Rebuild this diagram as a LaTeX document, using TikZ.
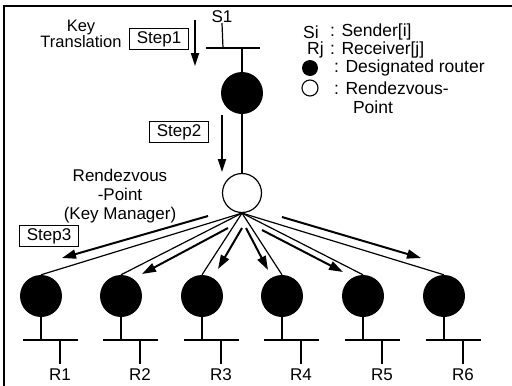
\documentclass[tikz,border=0pt]{standalone}
\usepackage{fontspec}
\setmainfont{Liberation Sans}
\usetikzlibrary{arrows.meta}
\begin{document}
\begin{tikzpicture}[x=1pt,y=-1pt,
  router/.style={circle,fill=black,minimum size=42pt,inner sep=0pt},
  rpnode/.style={circle,draw,line width=1.2pt,minimum size=39pt,inner sep=0pt},
  wire/.style={line width=1.2pt},
  frameline/.style={line width=1.6pt},
  stepbox/.style={draw,line width=1.2pt,minimum width=59pt,minimum height=21pt,inner sep=1pt,font=\fontsize{17}{18}\selectfont},
  lbl/.style={font=\fontsize{17}{18}\selectfont,inner sep=0pt},
  leg/.style={font=\fontsize{17.5}{18}\selectfont,inner sep=0pt,anchor=west},
  steparrow/.style={line width=1.8pt,-{Triangle[length=13pt,width=8pt]}},
  bigarrow/.style={line width=2pt,-{Triangle[length=14pt,width=9pt]}},
]
\useasboundingbox (0,0) rectangle (512,386);
% frame
\coordinate (fa) at (4,386);
\coordinate (fb) at (4,6);
\coordinate (fc) at (512,6);
\draw[frameline] (fa) -- (fb) -- (fc);

% sender side
\node[lbl] (s1lab) at (222,17) {S1};
\coordinate (sstub) at (223,48);
\coordinate (sbarl) at (206,48);
\coordinate (sbarr) at (260,48);
\coordinate (sjoin) at (242,48);
\node[router] (sr) at (242,93) {};
\draw[wire] (s1lab.south) -- (sstub);
\draw[wire] (sbarl) -- (sbarr);
\draw[wire] (sjoin) -- (sr.north);

\node[rpnode] (rp) at (242,193) {};
\draw[wire] (sr.south) -- (rp.north);

% step 1
\node[lbl,align=center,font=\fontsize{16.5}{15}\selectfont] (kt) at (81,34) {Key\\Translation};
\node[stepbox] (step1) at (159,39) {Step1};
\coordinate (st1a) at (195,20);
\coordinate (st1b) at (195,66);
\draw[steparrow] (st1a) -- (st1b);

% step 2
\node[stepbox] (step2) at (179,132) {Step2};
\coordinate (st2a) at (222,115);
\coordinate (st2b) at (222,172);
\draw[steparrow] (st2a) -- (st2b);

% RP label
\node[lbl,align=center,font=\fontsize{17}{19}\selectfont] (rplab) at (120,196) {Rendezvous\\-Point\\(Key Manager)};

% step 3
\node[stepbox] (step3) at (49,236) {Step3};

% receivers
\foreach \i/\cx in {1/41,2/121,3/202,4/282,5/363,6/444}{
  \node[router] (r\i) at (\cx,296) {};
  \coordinate (j\i) at (\cx,340);
  \coordinate (bl\i) at (\cx-18,340);
  \coordinate (br\i) at (\cx+37,340);
  \coordinate (t\i) at (\cx+19,340);
  \coordinate (u\i) at (\cx+19,364);
  \node[lbl] (lab\i) at (\cx+19,375) {R\i};
  \draw[wire] (r\i.south) -- (j\i);
  \draw[wire] (bl\i) -- (br\i);
  \draw[wire] (t\i) -- (u\i);
  \draw[wire] (rp.south) -- (r\i.north);
}

% key distribution arrows
\coordinate (a1s) at (208,216); \coordinate (a1e) at (62,258);
\coordinate (a2s) at (228,228); \coordinate (a2e) at (142,274);
\coordinate (a3s) at (242,228); \coordinate (a3e) at (218,269);
\coordinate (a4s) at (246,228); \coordinate (a4e) at (268,270);
\coordinate (a5s) at (262,230); \coordinate (a5e) at (343,272);
\coordinate (a6s) at (282,217); \coordinate (a6e) at (421,258);
\foreach \i in {1,...,6}{\draw[bigarrow] (a\i s) -- (a\i e);}

% legend
\node[leg] (lsi) at (303,32) {Si};
\node[leg] (lsit) at (330,32) {: Sender[i]};
\node[leg] (lrj) at (307,50) {Rj};
\node[leg] (lrjt) at (330,50) {: Receiver[j]};
\node[circle,fill=black,minimum size=16pt,inner sep=0pt] (ldr) at (310,68) {};
\node[leg] (ldrt) at (334,68) {: Designated router};
\node[circle,draw,line width=1.1pt,minimum size=16pt,inner sep=0pt] (lrp) at (310,88) {};
\node[leg] (lrpt) at (334,88) {: Rendezvous-};
\node[lbl,font=\fontsize{17.5}{18}\selectfont] (lpt) at (373,107) {Point};
\end{tikzpicture}
\end{document}
